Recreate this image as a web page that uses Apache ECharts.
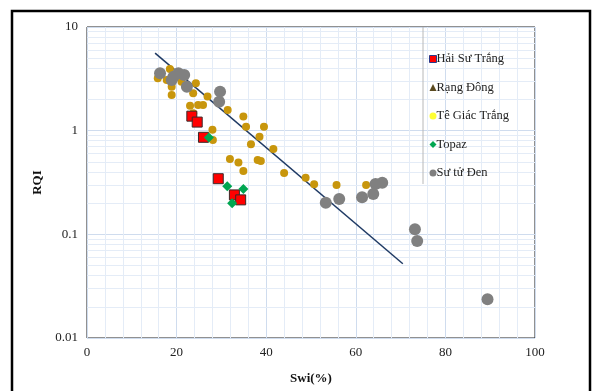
<!DOCTYPE html>
<html>
<head>
<meta charset="utf-8">
<script src="https://cdn.jsdelivr.net/npm/echarts@6/dist/echarts.min.js"></script>
<style>
  html, body { margin: 0; padding: 0; background: #fff; }
  #chart { width: 594px; height: 391px; }
</style>
</head>
<body>
<div id="chart"></div>
<script>
  // Swi (%) , RQI
  const haiSuTrang = [[23.4, 1.38], [24.6, 1.21], [26.0, 0.863], [29.3, 0.344], [32.9, 0.24], [34.3, 0.215]];
  const rangDong = [
    [15.8, 3.2], [18.5, 3.94], [17.8, 3.08], [18.9, 2.65], [18.9, 2.21], [21.1, 2.97],
    [24.3, 2.86], [23.7, 2.29], [26.9, 2.13], [23.0, 1.74], [24.8, 1.77], [25.9, 1.77],
    [23.7, 1.47], [31.4, 1.58], [34.9, 1.37], [35.5, 1.09], [39.5, 1.09], [28.0, 1.02],
    [28.1, 0.813], [38.5, 0.875], [36.6, 0.74], [41.6, 0.667], [31.9, 0.533], [33.8, 0.493],
    [38.1, 0.521], [38.8, 0.51], [34.9, 0.409], [44.0, 0.391], [48.8, 0.352], [50.7, 0.304],
    [55.7, 0.299], [62.3, 0.299]
  ];
  const teGiacTrang = [];
  const topaz = [[27.2, 0.859], [31.3, 0.291], [34.9, 0.273], [32.4, 0.2]];
  const suTuDen = [
    [16.3, 3.58], [19.3, 3.32], [20.4, 3.58], [21.7, 3.44], [18.9, 3.08], [22.3, 2.65],
    [29.7, 2.38], [29.5, 1.9], [53.3, 0.202], [56.3, 0.219], [61.4, 0.228], [63.9, 0.245],
    [64.4, 0.306], [65.9, 0.315], [73.2, 0.112], [73.7, 0.0863], [89.4, 0.0237]
  ];
  const trendLine = [[15.2, 5.6], [70.5, 0.052]];
  const yTickLabels = ['0.01', '0.1', '1', '10'];

  // log minor gridlines (2..9 in each decade)
  const yMinor = [];
  [0.01, 0.1, 1].forEach((d) => {
    for (let k = 2; k <= 9; k++) yMinor.push(+(d * k).toPrecision(3));
  });

  const serif = '"Liberation Serif", "DejaVu Serif", serif';
  const chart = echarts.init(document.getElementById('chart'));

  chart.setOption({
    animation: false,
    backgroundColor: '#fff',
    grid: { left: 87, right: 59, top: 27, bottom: 53, show: true, borderColor: '#222', borderWidth: 1 },
    graphic: [
      { type: 'rect', shape: { x: 12, y: 11, width: 578, height: 400 }, style: { fill: 'none', stroke: '#000', lineWidth: 2.5 }, z: 100 },
      { type: 'line', shape: { x1: 423, y1: 27, x2: 423, y2: 184 }, style: { stroke: '#b8b8b8', lineWidth: 1 }, z: 100 }
    ],
    legend: {
      orient: 'vertical',
      left: 424,
      top: 47,
      z: 10,
      itemWidth: 7,
      itemHeight: 7,
      itemGap: 14.5,
      textStyle: { fontFamily: serif, fontSize: 12.5, color: '#222', padding: [0, 0, 0, -5], lineHeight: 14 },
      data: [
        { name: 'Hải Sư Trắng', icon: 'rect', itemStyle: { color: '#ff0000', borderColor: '#2a3a8a', borderWidth: 1 } },
        { name: 'Rạng Đông', icon: 'triangle', itemStyle: { color: '#5a4a20' } },
        { name: 'Tê Giác Trắng', icon: 'circle', itemStyle: { color: '#ffff00' } },
        { name: 'Topaz', icon: 'diamond', itemStyle: { color: '#00a651' } },
        { name: 'Sư tử Đen', icon: 'circle', itemStyle: { color: '#7f7f7f' } }
      ]
    },
    xAxis: {
      type: 'value',
      min: 0,
      max: 100,
      interval: 20,
      name: 'Swi(%)',
      nameLocation: 'middle',
      nameGap: 34,
      nameTextStyle: { fontFamily: serif, fontSize: 13, fontWeight: 'bold', color: '#111' },
      axisLine: { show: false },
      axisTick: { show: false },
      axisLabel: { fontFamily: serif, fontSize: 13, color: '#222', margin: 8 },
      splitLine: { show: true, lineStyle: { color: '#cfdcee', width: 1 } },
      minorTick: { show: false, splitNumber: 5 },
      minorSplitLine: { show: true, lineStyle: { color: '#e4ecf7', width: 1 } }
    },
    yAxis: {
      type: 'log',
      logBase: 10,
      min: 0.01,
      max: 10,
      name: 'RQI',
      nameLocation: 'middle',
      nameGap: 42,
      nameRotate: 90,
      nameTextStyle: { fontFamily: serif, fontSize: 13, fontWeight: 'bold', color: '#111' },
      axisLine: { show: false },
      axisTick: { show: false },
      axisLabel: {
        fontFamily: serif, fontSize: 13, color: '#222', margin: 9,
        formatter: (v) => {
          const i = Math.round(Math.log10(v)) + 2;
          return yTickLabels[i] !== undefined ? yTickLabels[i] : '';
        }
      },
      splitLine: { show: true, lineStyle: { color: '#cfdcee', width: 1 } }
    },
    series: [
      {
        name: 'minorGrid',
        type: 'scatter',
        data: [],
        z: 0,
        silent: true,
        markLine: {
          silent: true,
          z: 0,
          symbol: 'none',
          animation: false,
          label: { show: false },
          emphasis: { disabled: true },
          lineStyle: { color: '#e4ecf7', width: 1, type: 'solid' },
          data: yMinor.map((v) => ({ yAxis: v }))
        }
      },
      {
        name: 'trend',
        type: 'line',
        data: trendLine,
        symbol: 'none',
        z: 2,
        lineStyle: { color: '#1f3a64', width: 1.5 }
      },
      {
        name: 'Rạng Đông',
        type: 'scatter',
        data: rangDong,
        symbol: 'circle',
        symbolSize: 8,
        z: 3,
        itemStyle: { color: '#c8960c', opacity: 1 }
      },
      {
        name: 'Tê Giác Trắng',
        type: 'scatter',
        data: teGiacTrang,
        symbol: 'circle',
        symbolSize: 8,
        z: 3,
        itemStyle: { color: '#ffff00' }
      },
      {
        name: 'Sư tử Đen',
        type: 'scatter',
        data: suTuDen,
        symbol: 'circle',
        symbolSize: 12,
        z: 4,
        itemStyle: { color: '#808080', opacity: 1 }
      },
      {
        name: 'Hải Sư Trắng',
        type: 'scatter',
        data: haiSuTrang,
        symbol: 'rect',
        symbolSize: 10,
        z: 5,
        itemStyle: { color: '#ff0000', borderColor: '#3a2a2a', borderWidth: 1, opacity: 1 }
      },
      {
        name: 'Topaz',
        type: 'scatter',
        data: topaz,
        symbol: 'diamond',
        symbolSize: 10,
        z: 5,
        itemStyle: { color: '#00a651', opacity: 1 }
      }
    ]
  });
</script>
</body>
</html>
